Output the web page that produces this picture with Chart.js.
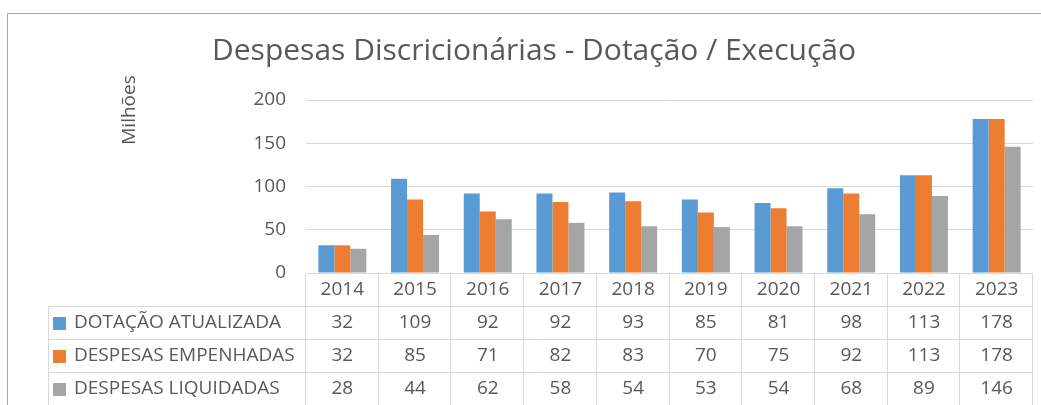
<!DOCTYPE html>
<html>
<head>
<meta charset="utf-8">
<script src="https://cdn.jsdelivr.net/npm/chart.js@4/dist/chart.umd.min.js"></script>
<style>
  html, body { margin: 0; padding: 0; background: #fff; }
  #wrap { width: 1041px; height: 405px; position: relative; }
</style>
</head>
<body>
<div id="wrap"><canvas id="chart"></canvas></div>
<script>
// Chart data
const years = ['2014', '2015', '2016', '2017', '2018', '2019', '2020', '2021', '2022', '2023'];
const dotacaoAtualizada = [32, 109, 92, 92, 93, 85, 81, 98, 113, 178];
const despesasEmpenhadas = [32, 85, 71, 82, 83, 70, 75, 92, 113, 178];
const despesasLiquidadas = [28, 44, 62, 58, 54, 53, 54, 68, 89, 146];
const yTicks = [0, 50, 100, 150, 200];

const seriesNames = ['DOTAÇÃO ATUALIZADA', 'DESPESAS EMPENHADAS', 'DESPESAS LIQUIDADAS'];
const seriesColors = ['#5B9BD5', '#ED7D31', '#A5A5A5'];
const seriesData = [dotacaoAtualizada, despesasEmpenhadas, despesasLiquidadas];

const FONT = '"Open Sans", "Noto Sans", sans-serif';
const TEXT = '#595959';
const LINE = '#d9d9d9';

// Draws the frame, title, axis caption and the data table under the plot
const tablePlugin = {
    id: 'dataTable',
    afterDraw(chart) {
        const ctx = chart.ctx;
        const area = chart.chartArea;
        const xs = chart.scales.x;
        const n = years.length;
        const colW = area.width / n;
        const rowH = 33;
        const top = Math.round(area.bottom) + 0.5;
        const tableLeft = 48.5;
        const right = Math.round(area.left + colW * n) - 0.5;

        ctx.save();

        // outer frame
        ctx.strokeStyle = '#a6a6a6';
        ctx.lineWidth = 1;
        ctx.beginPath();
        ctx.moveTo(7.5, 405);
        ctx.lineTo(7.5, 13.5);
        ctx.lineTo(1041, 13.5);
        ctx.stroke();

        // title
        ctx.fillStyle = TEXT;
        ctx.font = '30px ' + FONT;
        ctx.textAlign = 'center';
        ctx.textBaseline = 'middle';
        ctx.fillText('Despesas Discricionárias - Dotação / Execução', 534, 51);

        // axis caption
        ctx.save();
        ctx.translate(130, 110);
        ctx.rotate(-Math.PI / 2);
        ctx.font = '19px ' + FONT;
        ctx.fillText('Milhões', 0, 0);
        ctx.restore();

        // table grid
        ctx.strokeStyle = LINE;
        ctx.beginPath();
        for (let r = 1; r <= 3; r++) {
            const y = top + rowH * r;
            ctx.moveTo(tableLeft, y);
            ctx.lineTo(right, y);
        }
        ctx.moveTo(tableLeft, top + rowH);
        ctx.lineTo(tableLeft, 405);
        for (let i = 0; i <= n; i++) {
            const x = Math.round(area.left + colW * i) - 0.5;
            ctx.moveTo(x, top);
            ctx.lineTo(x, 405);
        }
        ctx.stroke();

        // category row
        ctx.font = '19px ' + FONT;
        ctx.fillStyle = TEXT;
        ctx.textAlign = 'center';
        years.forEach((y, i) => {
            ctx.fillText(y, xs.getPixelForValue(i), top + rowH / 2);
        });

        // series rows
        seriesNames.forEach((name, s) => {
            const cy = top + rowH * (s + 1) + rowH / 2;
            ctx.fillStyle = seriesColors[s];
            ctx.fillRect(53, Math.round(cy - 6), 13, 13);
            ctx.fillStyle = TEXT;
            ctx.textAlign = 'left';
            ctx.fillText(name, 74, cy);
            ctx.textAlign = 'center';
            seriesData[s].forEach((v, i) => {
                ctx.fillText(String(v), xs.getPixelForValue(i), cy);
            });
        });

        ctx.restore();
    }
};

const ctx = document.getElementById('chart').getContext('2d');
new Chart(ctx, {
    type: 'bar',
    data: {
        labels: years,
        datasets: seriesNames.map((name, s) => ({
            label: name,
            data: seriesData[s],
            backgroundColor: seriesColors[s],
            borderWidth: 0,
            categoryPercentage: 0.66,
            barPercentage: 1.0
        }))
    },
    options: {
        responsive: true,
        maintainAspectRatio: false,
        animation: false,
        events: [],
        layout: {
            padding: { left: 250, right: 8, top: 100, bottom: 132 }
        },
        scales: {
            x: {
                display: true,
                grid: { display: false },
                border: { display: false },
                ticks: { display: false },
                afterFit: function(scale) { scale.height = 0; }
            },
            y: {
                min: 0,
                max: 200,
                afterBuildTicks: function(scale) {
                    scale.ticks = yTicks.map(v => ({ value: v }));
                },
                afterFit: function(scale) { scale.width = 56; },
                grid: { color: LINE, drawTicks: false },
                border: { display: false },
                ticks: {
                    padding: 20,
                    color: TEXT,
                    font: { family: FONT, size: 19 }
                }
            }
        },
        plugins: {
            legend: { display: false },
            title: { display: false },
            tooltip: { enabled: false }
        }
    },
    plugins: [tablePlugin]
});
</script>
</body>
</html>
